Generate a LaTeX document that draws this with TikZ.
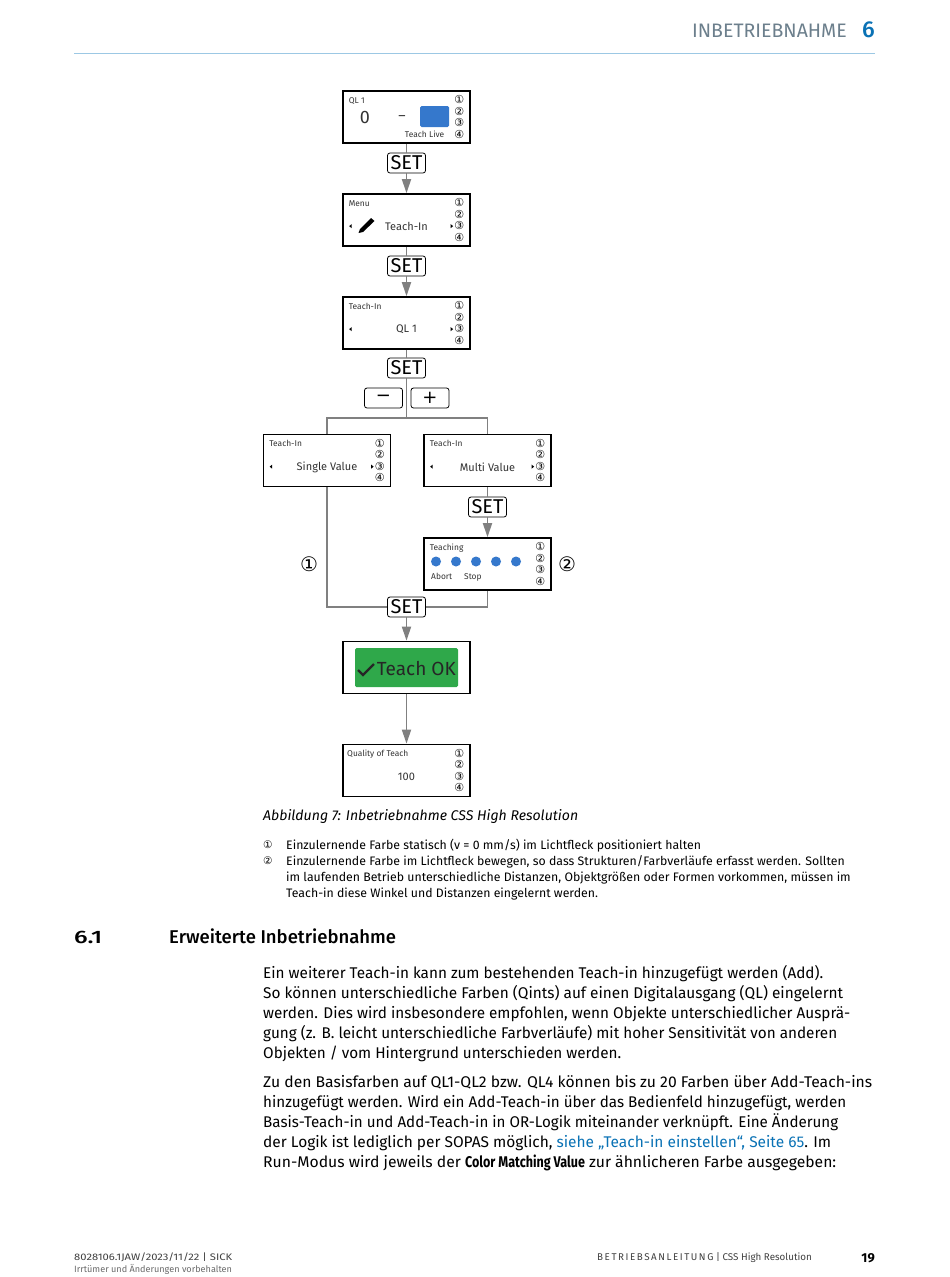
\documentclass[tikz,border=0pt]{standalone}
\usepackage{fontspec}
\usepackage{graphicx}
\setmainfont{Fira Sans}
\newfontfamily\symfont{DejaVu Sans}
\newfontfamily\medfont{Fira Sans Medium}
\usetikzlibrary{arrows.meta}
\definecolor{ruleblue}{HTML}{9CC8E4}
\definecolor{headgray}{HTML}{6C7F8C}
\definecolor{sickblue}{HTML}{0A72B5}
\definecolor{boxblue}{HTML}{3578CC}
\definecolor{okgreen}{HTML}{2FA84A}
\definecolor{footgray}{HTML}{6A6A6A}
\tikzset{
screen/.style={draw=black,line width=1.7pt,fill=white,minimum width=127pt,minimum height=52pt,inner sep=0pt},
setkey/.style={draw=black,line width=.8pt,fill=white,rounded corners=2.5pt,minimum width=38pt,minimum height=20pt,inner sep=0pt,font=\fontsize{20}{20}\selectfont},
signkey/.style={setkey,font=\symfont\fontsize{18}{18}\selectfont},
flowline/.style={draw=black!50,line width=1.8pt},
flowarrow/.style={flowline,-{Triangle[length=14pt,width=9pt,fill=black!50]}},
tinytext/.style={inner sep=0pt,font=\fontsize{8.4}{9}\selectfont,text=black!80},
midtext/.style={inner sep=0pt,font=\fontsize{11}{11}\selectfont,text=black!80},
digit/.style={inner sep=0pt,font=\symfont\fontsize{11}{11}\selectfont},
bigdigit/.style={inner sep=0pt,font=\symfont\fontsize{20}{20}\selectfont},
bodytext/.style={inner sep=0pt,anchor=base west,font=\fontsize{15.5}{20}\selectfont},
notetext/.style={inner sep=0pt,anchor=base west,font=\fontsize{12.3}{16}\selectfont},
notemark/.style={inner sep=0pt,anchor=base west,font=\symfont\fontsize{10.5}{11}\selectfont},
pointer/.style={fill=black,draw=none}
}
\providecommand{\Fit}[2]{\resizebox{#1pt}{\height}{#2}}
\providecommand{\Digits}[1]{
\node[digit] (#1-a) at ([shift={(-11.5,9.5)}]#1.north east) {①};
\node[digit] (#1-b) at ([shift={(-11.5,21)}]#1.north east) {②};
\node[digit] (#1-c) at ([shift={(-11.5,32.5)}]#1.north east) {③};
\node[digit] (#1-d) at ([shift={(-11.5,44)}]#1.north east) {④};
}
\providecommand{\Pointers}[1]{
\fill[pointer] ([shift={(7,33)}]#1.north west) -- ++(2.5,-2) -- ++(0,4) -- cycle;
\fill[pointer] ([shift={(111,33)}]#1.north west) -- ++(-2.5,-2) -- ++(0,4) -- cycle;
}
% name, centre, title
\providecommand{\Screen}[3]{
\node[screen] (#1) at (#2) {};
\node[tinytext,anchor=base west] (#1-title) at ([shift={(6.5,13)}]#1.north west) {#3};
\Digits{#1}
}
% name, centre, title, text
\providecommand{\MenuScreen}[4]{
\Screen{#1}{#2}{#3}
\node[midtext] (#1-text) at ([shift={(0,33.5)}]#1.north) {#4};
\Pointers{#1}
}

\begin{document}
\begin{tikzpicture}[x=1pt,y=-1pt]
\useasboundingbox (0,0) rectangle (950,1277);
\fill[white] (0,0) rectangle (950,1277);
% head of the page
\node[inner sep=0pt,anchor=base east,font=\fontsize{19.5}{20}\selectfont,text=headgray] (headtitle) at (847,37.5) {INBETRIEBNAHME};
\node[inner sep=0pt,anchor=base east,font=\medfont\fontsize{23}{23}\selectfont,text=sickblue] (headnum) at (875,37.5) {6};
\draw[ruleblue,line width=1.2pt] (74,53.5) -- (875,53.5);

% screens
\Screen{live}{406.5,117}{QL 1}
\node[inner sep=0pt,font=\fontsize{18}{18}\selectfont,text=black!80] (live-zero) at (365,117) {0};
\node[inner sep=0pt,font=\fontsize{14}{14}\selectfont,text=black!80] (live-dash) at (402,118) {–};
\node[fill=boxblue,rounded corners=1.5pt,minimum width=29pt,minimum height=21pt,inner sep=0pt] (live-box) at (434.5,116.5) {};
\node[tinytext,anchor=base east] (live-mode) at (444.5,137.5) {Teach Live};
\MenuScreen{menu}{406.5,220}{Menu}{Teach-In}
\fill[black] (358.5,233) -- (360,229) -- (371,218) -- (374.5,221) -- (363,232) -- cycle;
\MenuScreen{teachin}{406.5,323}{Teach-In}{QL 1}
\MenuScreen{single}{327,460.5}{Teach-In}{Single Value}
\MenuScreen{multi}{487.5,460.5}{Teach-In}{Multi Value}
\Screen{teaching}{487.5,564}{Teaching}
\foreach \i in {0,...,4}{
\fill[boxblue] (436+\i*20,561.5) circle (5);
}
\node[tinytext,anchor=base west] (teaching-abort) at (431,579) {Abort};
\node[tinytext,anchor=base west] (teaching-stop) at (464,579) {Stop};
\node[screen] (done) at (406.5,667.5) {};
\node[fill=okgreen,rounded corners=1.5pt,minimum width=103pt,minimum height=39pt,inner sep=0pt] (done-box) at (406.5,667.5) {};
\node[inner sep=0pt,anchor=east,font=\fontsize{19}{20}\selectfont,text=black!85] (done-text) at (456,668) {Teach OK};
\draw[black!85,line width=2.4pt] (358,670) -- (363,675) -- (374,664);
\node[screen] (quality) at (406.5,770.5) {};
\node[tinytext,anchor=base west] (quality-title) at (347,756.5) {Quality of Teach};
\Digits{quality}
\node[midtext] (quality-text) at (406.5,777) {100};

% keys
\node[setkey] (seta) at (406.5,163) {SET};
\node[setkey] (setb) at (406.5,266) {SET};
\node[setkey] (setc) at (406.5,368) {SET};
\node[setkey] (setd) at (487.5,507) {SET};
\node[setkey] (sete) at (406.5,607) {SET};
\node[signkey] (minus) at (383.5,398) {−};
\node[signkey] (plus) at (430,398) {+};
\coordinate (fork) at (406.5,418);

% connectors
\draw[flowline] (live) -- (seta);
\draw[flowarrow] (seta) -- (menu);
\draw[flowline] (menu) -- (setb);
\draw[flowarrow] (setb) -- (teachin);
\draw[flowline] (teachin) -- (setc);
\draw[flowline] (setc) -- (fork);
\draw[flowline] (fork) -| (single.north);
\draw[flowline] (fork) -| (multi.north);
\draw[flowline] (multi) -- (setd);
\draw[flowarrow] (setd) -- (teaching);
\draw[flowline] (single.south) |- (sete.west);
\draw[flowline] (teaching.south) |- (sete.east);
\draw[flowarrow] (sete) -- (done);
\draw[flowarrow] (done) -- (quality);
\node[bigdigit] (markone) at (309,564) {①};
\node[bigdigit] (marktwo) at (567,564) {②};

% text of the page
\node[inner sep=0pt,anchor=base west,font=\fontsize{14.1}{16}\selectfont\itshape] (caption) at (263,820) {Abbildung 7: Inbetriebnahme CSS High Resolution};
\node[notemark] (noteone) at (263,848) {①};
\node[notetext] (noteonea) at (286,849.5) {Einzulernende Farbe statisch (v = 0 mm/s) im Lichtfleck positioniert halten};
\node[notemark] (notetwo) at (263,864) {②};
\node[notetext] (notetwoa) at (286,865.5) {Einzulernende Farbe im Lichtfleck bewegen, so dass Strukturen/Farbverläufe erfasst werden. Sollten};
\node[notetext] (notetwob) at (286,881.5) {im laufenden Betrieb unterschiedliche Distanzen, Objektgrößen oder Formen vorkommen, müssen im};
\node[notetext] (notetwoc) at (286,897.5) {Teach-in diese Winkel und Distanzen eingelernt werden.};
\node[inner sep=0pt,anchor=base west,font=\medfont\fontsize{18}{20}\selectfont] (secnum) at (74,943) {\Fit{28}{6.1}};
\node[inner sep=0pt,anchor=base west,font=\medfont\fontsize{18.5}{20}\selectfont] (sectitle) at (169,943) {Erweiterte Inbetriebnahme};
\node[bodytext] (para-a) at (263,978) {\Fit{560}{Ein weiterer Teach-in kann zum bestehenden Teach-in hinzugefügt werden (Add).}};
\node[bodytext] (para-b) at (263,998) {\Fit{580}{So können unterschiedliche Farben (Qints) auf einen Digitalausgang (QL) eingelernt}};
\node[bodytext] (para-c) at (263,1018) {\Fit{587}{werden. Dies wird insbesondere empfohlen, wenn Objekte unterschiedlicher Ausprä-}};
\node[bodytext] (para-d) at (263,1038) {\Fit{574}{gung (z. B. leicht unterschiedliche Farbverläufe) mit hoher Sensitivität von anderen}};
\node[bodytext] (para-e) at (263,1058) {\Fit{358}{Objekten / vom Hintergrund unterschieden werden.}};
\node[bodytext] (parb-a) at (263,1087) {\Fit{609}{Zu den Basisfarben auf QL1-QL2 bzw. QL4 können bis zu 20 Farben über Add-Teach-ins}};
\node[bodytext] (parb-b) at (263,1107) {\Fit{583}{hinzugefügt werden. Wird ein Add-Teach-in über das Bedienfeld hinzugefügt, werden}};
\node[bodytext] (parb-c) at (263,1127) {\Fit{575}{Basis-Teach-in und Add-Teach-in in OR-Logik miteinander verknüpft. Eine Änderung}};
\node[bodytext] (parb-d) at (263,1147) {\Fit{568}{der Logik ist lediglich per SOPAS möglich, \textcolor{sickblue}{siehe „Teach-in einstellen“, Seite 65}. Im}};
\node[bodytext] (parb-e) at (263,1167) {\Fit{573}{Run-Modus wird jeweils der \scalebox{.8}[1]{\bfseries Color Matching Value} zur ähnlicheren Farbe ausgegeben:}};

% foot of the page
\node[inner sep=0pt,anchor=base west,font=\fontsize{9.5}{10}\selectfont,text=black!75] (footcode) at (74,1260) {\Fit{158}{8028106.1JAW/2023/11/22 | SICK}};
\node[inner sep=0pt,anchor=base west,font=\fontsize{9.1}{10}\selectfont,text=footgray] (footnote) at (74,1272) {Irrtümer und Änderungen vorbehalten};
\node[inner sep=0pt,anchor=base west,font=\fontsize{9.8}{10}\selectfont,text=black!75] (footdoc) at (597,1260) {{\addfontfeatures{LetterSpace=16}BETRIEBSANLEITUNG} | CSS High Resolution};
\node[inner sep=0pt,anchor=base east,font=\fontsize{13}{14}\selectfont\bfseries] (footpage) at (875,1262) {19};
\end{tikzpicture}
\end{document}
